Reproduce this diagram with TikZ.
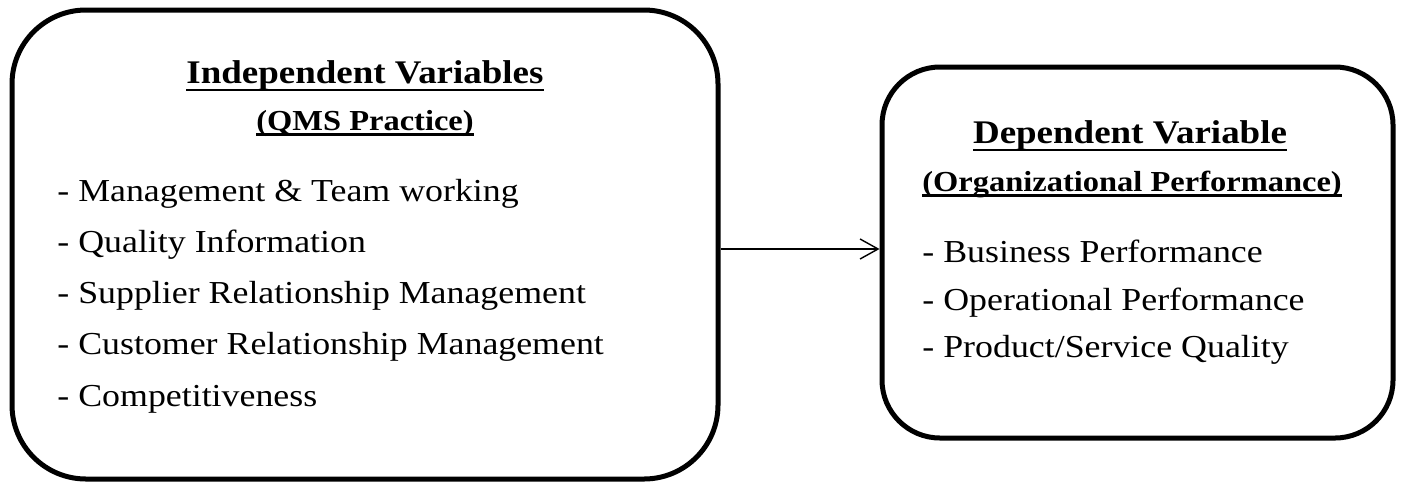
\documentclass[tikz,border=0pt]{standalone}
\usepackage{fontspec}
\setmainfont[FakeStretch=1.12]{Liberation Serif}
\usetikzlibrary{arrows.meta,positioning}
% underline: depth, thickness, text
\newcommand{\ulin}[3]{\setbox0=\hbox{#3}\rlap{\rule[-#1]{\wd0}{#2}}\box0}
\tikzset{
  frame/.style={draw=black, line width=2.5pt, inner sep=0pt},
  head/.style={font=\fontsize{16.5}{20}\selectfont\bfseries, anchor=base, inner sep=0pt},
  subhead/.style={font=\fontsize{14.5}{17}\selectfont\bfseries, anchor=base, inner sep=0pt},
  item/.style={font=\fontsize{16}{19}\selectfont, anchor=base west, inner sep=0pt},
  link/.style={line width=0.7pt, -{Straight Barb[length=9pt,width=10pt]}},
}
\begin{document}
\begin{tikzpicture}[x=0.5pt, y=-0.5pt]
  \useasboundingbox (0,0) rectangle (1401,483);

  % the two boxes
  \node[frame, rounded corners=37pt, minimum width=353pt, minimum height=234.5pt] (indep) at (365,244.5) {};
  \node[frame, rounded corners=29pt, minimum width=255.5pt, minimum height=185.5pt] (dep) at (1137.5,252.5) {};

  % independent side
  \node[head] (indephead) at (365,83) {\ulin{4.2pt}{1.4pt}{Independent Variables}};
  \node[subhead] (indepsub) at (365,130) {\ulin{2.9pt}{1.2pt}{(QMS Practice)}};
  \node[item] (mgmt) at (57,201) {- Management \& Team working};
  \node[item] (info) at (57,252) {- Quality Information};
  \node[item] (supp) at (57,303) {- Supplier Relationship Management};
  \node[item] (cust) at (57,354.5) {- Customer Relationship Management};
  \node[item] (comp) at (57,406) {- Competitiveness};

  % dependent side
  \node[head] (dephead) at (1130,143) {\ulin{4.2pt}{1.4pt}{Dependent Variable}};
  \node[subhead] (depsub) at (1132,191) {\ulin{2.9pt}{1.2pt}{(Organizational Performance)}};
  \node[item] (busi) at (922,262) {- Business Performance};
  \node[item] (oper) at (922,310) {- Operational Performance};
  \node[item] (prod) at (922,357) {- Product/Service Quality};

  % link
  \coordinate (tail) at (indep.east |- 0,249);
  \draw[link] (tail) -- (tail -| dep.west);
\end{tikzpicture}
\end{document}
